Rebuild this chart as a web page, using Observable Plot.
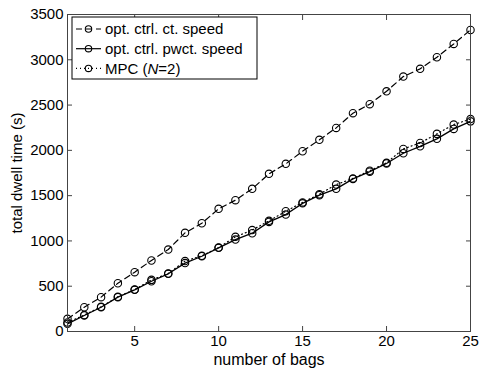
<!DOCTYPE html>
<html>
<head>
<meta charset="utf-8">
<script src="https://cdn.jsdelivr.net/npm/d3@7"></script>
<script src="https://cdn.jsdelivr.net/npm/@observablehq/plot@0.6"></script>
<style>
  html, body { margin: 0; padding: 0; background: #fff; }
  svg text { font-family: "Liberation Sans", Arial, Helvetica, sans-serif; }
</style>
</head>
<body>
<div id="chart"></div>
<script>
const bags = [1,2,3,4,5,6,7,8,9,10,11,12,13,14,15,16,17,18,19,20,21,22,23,24,25];
const ctSpeed = [140, 268, 379, 533, 655, 784, 905, 1089, 1195, 1354, 1450, 1575, 1741, 1851, 1990, 2116, 2248, 2410, 2510, 2652, 2815, 2900, 3028, 3175, 3330];
const pwctSpeed = [85, 177, 268, 379, 460, 555, 637, 755, 831, 924, 1015, 1085, 1210, 1291, 1415, 1505, 1575, 1685, 1765, 1855, 1968, 2045, 2127, 2237, 2320];
const mpc = [100, 182, 272, 383, 463, 570, 640, 778, 836, 927, 1045, 1120, 1222, 1328, 1425, 1515, 1622, 1690, 1775, 1862, 2016, 2082, 2182, 2285, 2345];
const xTicks = [5, 10, 15, 20, 25];
const yTicks = [0, 500, 1000, 1500, 2000, 2500, 3000, 3500];
const seriesNames = ["opt. ctrl. ct. speed", "opt. ctrl. pwct. speed", "MPC (N=2)"];

const toRows = vals => bags.map((b, i) => ({bag: b, t: vals[i]}));
const ct = toRows(ctSpeed), pw = toRows(pwctSpeed), mp = toRows(mpc);

const axisColor = "#444";
const fmt = d3.format("d");
const svg = Plot.plot({
  width: 479,
  height: 370,
  marginLeft: 67,
  marginRight: 9,
  marginTop: 14,
  marginBottom: 39,
  style: {fontSize: "15px", fontFamily: "Liberation Sans, Arial, sans-serif", background: "#fff", color: "#000"},
  x: {domain: [1, 25]},
  y: {domain: [0, 3500]},
  marks: [
    Plot.line(ct, {x: "bag", y: "t", stroke: "#000", strokeWidth: 1.2, strokeDasharray: "6,4"}),
    Plot.line(mp, {x: "bag", y: "t", stroke: "#000", strokeWidth: 1.2, strokeDasharray: "1,3"}),
    Plot.line(pw, {x: "bag", y: "t", stroke: "#000", strokeWidth: 1.3}),
    Plot.dot(ct, {x: "bag", y: "t", r: 3.7, stroke: "#000", strokeWidth: 1.1, fill: "none"}),
    Plot.dot(mp, {x: "bag", y: "t", r: 3.7, stroke: "#000", strokeWidth: 1.1, fill: "none"}),
    Plot.dot(pw, {x: "bag", y: "t", r: 3.7, stroke: "#000", strokeWidth: 1.1, fill: "none"}),
    Plot.axisX({anchor: "bottom", ticks: xTicks, tickFormat: fmt, tickSize: 0, tickPadding: 4, label: null, fill: "#000"}),
    Plot.axisX({anchor: "bottom", ticks: xTicks, tickSize: -5, text: null, label: null, stroke: axisColor}),
    Plot.axisX({anchor: "top", ticks: xTicks, tickSize: -5, text: null, label: null, stroke: axisColor}),
    Plot.axisY({anchor: "left", ticks: yTicks, tickFormat: fmt, tickSize: 0, tickPadding: 4, label: null, fill: "#000"}),
    Plot.axisY({anchor: "left", ticks: yTicks, tickSize: -5, text: null, label: null, stroke: axisColor}),
    Plot.axisY({anchor: "right", ticks: yTicks, tickSize: -5, text: null, label: null, stroke: axisColor}),
    Plot.frame({stroke: axisColor, strokeWidth: 1}),
    Plot.text(["number of bags"], {frameAnchor: "bottom", lineAnchor: "middle", textAnchor: "middle", dy: 28, fontSize: 16, fill: "#000"}),
    Plot.text(["total dwell time (s)"], {frameAnchor: "left", lineAnchor: "middle", textAnchor: "middle", dx: -50, rotate: -90, fill: "#000"})
  ]
});

// Legend (MATLAB style box, upper left)
const g = d3.select(svg).append("g").attr("class", "legend").attr("text-anchor", "start");
g.append("rect").attr("x", 72).attr("y", 17).attr("width", 185).attr("height", 62)
  .attr("fill", "#fff").attr("stroke", "#000").attr("stroke-width", 1);
const styles = [
  {dash: "6,4"},
  {dash: null},
  {dash: "1,3"}
];
seriesNames.forEach((name, i) => {
  const cy = 29 + i * 19.7;
  const ln = g.append("line").attr("x1", 76).attr("x2", 101).attr("y1", cy).attr("y2", cy)
    .attr("stroke", "#000").attr("stroke-width", 1.2);
  if (styles[i].dash) ln.attr("stroke-dasharray", styles[i].dash);
  g.append("circle").attr("cx", 88.5).attr("cy", cy).attr("r", 3.2)
    .attr("fill", "none").attr("stroke", "#000").attr("stroke-width", 1.1);
  const t = g.append("text").attr("x", 105).attr("y", cy).attr("dy", "0.35em")
    .attr("text-anchor", "start").attr("font-size", 15).attr("fill", "#000");
  if (name.includes("N=")) {
    t.append("tspan").text("MPC (");
    t.append("tspan").attr("font-style", "italic").text("N");
    t.append("tspan").text("=2)");
  } else {
    t.text(name);
  }
});

document.getElementById("chart").appendChild(svg);
</script>
</body>
</html>
